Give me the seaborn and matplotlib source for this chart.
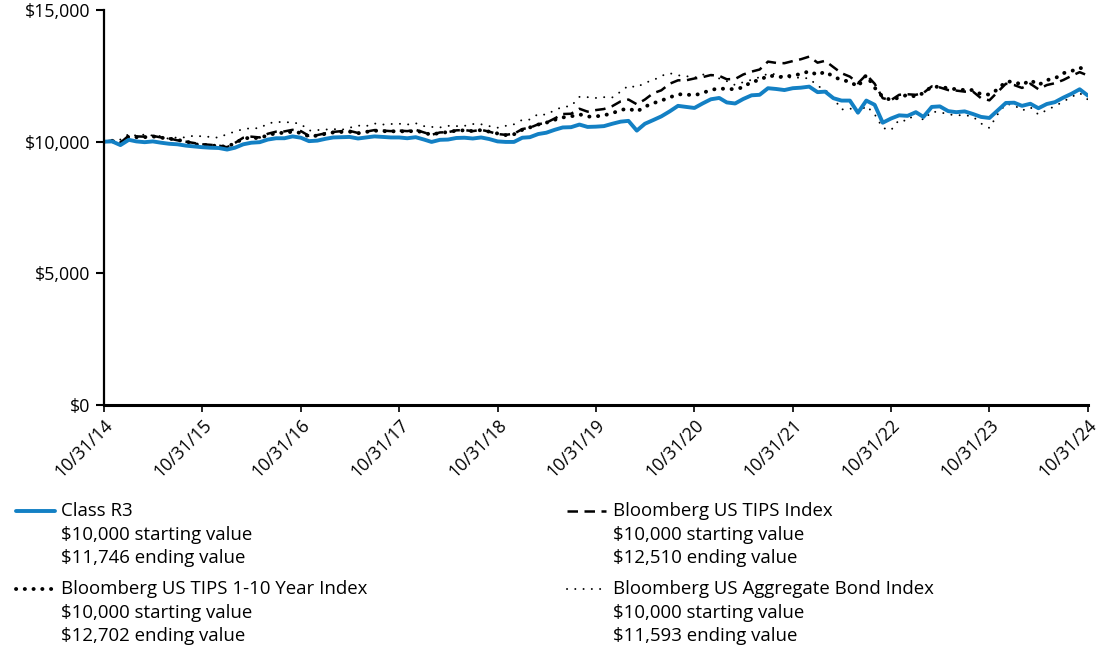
import numpy as np
import pandas as pd
import matplotlib
matplotlib.use("Agg")
import matplotlib.pyplot as plt
import seaborn as sns
from matplotlib.lines import Line2D

# ---------------- data ----------------
dates = pd.date_range("2014-10-31", periods=121, freq="ME")
tick_labels = ["10/31/14", "10/31/15", "10/31/16", "10/31/17", "10/31/18", "10/31/19",
               "10/31/20", "10/31/21", "10/31/22", "10/31/23", "10/31/24"]

class_r3 = [10000, 10010, 9870, 10070, 10010, 9980, 10010, 9960, 9920, 9900, 9850, 9820, 9790,
            9770, 9760, 9700, 9770, 9900, 9960, 9980, 10080, 10130, 10130, 10200, 10150,
            10020, 10040, 10110, 10160, 10170, 10180, 10120, 10160, 10200, 10180, 10160, 10160,
            10130, 10170, 10080, 9990, 10070, 10080, 10140, 10150, 10120, 10160, 10100, 10010,
            9990, 9990, 10150, 10170, 10290, 10340, 10450, 10540, 10550, 10650, 10560, 10570,
            10590, 10680, 10760, 10790, 10420, 10680, 10820, 10960, 11150, 11360, 11320, 11280,
            11450, 11610, 11660, 11490, 11450, 11620, 11760, 11780, 12030, 12000, 11960, 12030,
            12050, 12090, 11880, 11900, 11650, 11560, 11560, 11100, 11560, 11400, 10720, 10880,
            11000, 10980, 11120, 10940, 11320, 11340, 11160, 11120, 11150, 11050, 10940, 10900,
            11180, 11470, 11480, 11360, 11440, 11270, 11430, 11500, 11670, 11820, 11990, 11746]

tips_index = [10000, 10040, 9960, 10230, 10200, 10190, 10220, 10160, 10120, 10050, 10000, 9950, 9900,
              9880, 9850, 9790, 9950, 10150, 10190, 10160, 10300, 10380, 10390, 10450, 10400,
              10220, 10250, 10320, 10370, 10400, 10410, 10330, 10380, 10440, 10420, 10400, 10420,
              10400, 10450, 10350, 10260, 10350, 10360, 10430, 10440, 10400, 10450, 10380, 10290,
              10260, 10300, 10480, 10530, 10660, 10720, 10880, 11050, 11060, 11250, 11140, 11200,
              11240, 11350, 11530, 11600, 11420, 11600, 11840, 11950, 12200, 12330, 12330, 12400,
              12450, 12530, 12500, 12370, 12380, 12550, 12660, 12740, 13040, 12990, 12980, 13060,
              13130, 13230, 13000, 13070, 12830, 12600, 12470, 12220, 12540, 12200, 11650, 11580,
              11780, 11800, 11780, 11850, 12100, 12060, 11960, 11940, 11900, 11900, 11650, 11570,
              11880, 12200, 12150, 12040, 12200, 11990, 12150, 12220, 12340, 12500, 12640, 12510]

tips_1_10 = [10000, 10020, 9950, 10200, 10170, 10170, 10200, 10150, 10120, 10060, 10020, 9900, 9880,
             9860, 9830, 9810, 9940, 10120, 10150, 10130, 10250, 10320, 10340, 10380, 10330,
             10200, 10230, 10300, 10350, 10370, 10380, 10320, 10370, 10420, 10400, 10390, 10400,
             10380, 10420, 10340, 10260, 10340, 10360, 10420, 10430, 10400, 10440, 10380, 10310,
             10250, 10280, 10450, 10540, 10650, 10720, 10830, 10920, 10960, 11040, 10950, 10960,
             11000, 11080, 11200, 11260, 11140, 11330, 11460, 11560, 11680, 11800, 11790, 11760,
             11850, 11960, 12030, 11990, 12000, 12060, 12280, 12330, 12510, 12480, 12440, 12530,
             12560, 12680, 12530, 12660, 12470, 12340, 12280, 12090, 12530, 12050, 11700, 11580,
             11680, 11780, 11710, 11850, 12090, 12080, 12030, 11990, 11960, 11960, 11800, 11790,
             11980, 12280, 12280, 12150, 12340, 12150, 12340, 12400, 12600, 12680, 12810, 12702]

agg_bond = [10000, 10070, 10080, 10290, 10230, 10270, 10230, 10210, 10100, 10170, 10160, 10230, 10200,
            10180, 10150, 10290, 10380, 10480, 10510, 10510, 10690, 10750, 10740, 10730, 10670,
            10420, 10440, 10460, 10480, 10450, 10530, 10610, 10590, 10690, 10650, 10670, 10680,
            10650, 10700, 10590, 10560, 10540, 10600, 10590, 10600, 10670, 10660, 10590, 10530,
            10600, 10660, 10830, 10840, 11050, 11020, 11200, 11320, 11350, 11700, 11690, 11660,
            11690, 11680, 11900, 12130, 12060, 12240, 12330, 12500, 12600, 12520, 12490, 12430,
            12550, 12530, 12400, 12300, 12150, 12260, 12350, 12450, 12580, 12560, 12450, 12430,
            12430, 12400, 12120, 11970, 11660, 11220, 11270, 11080, 11360, 11040, 10520, 10440,
            10830, 10780, 11110, 10820, 11140, 11120, 11040, 11000, 11010, 10950, 10690, 10520,
            11030, 11430, 11390, 11180, 11310, 11030, 11200, 11350, 11520, 11700, 11850, 11593]

series_names = ["Class R3", "Bloomberg US TIPS Index",
                "Bloomberg US TIPS 1-10 Year Index", "Bloomberg US Aggregate Bond Index"]
start_values = ["$10,000", "$10,000", "$10,000", "$10,000"]
end_values = ["$11,746", "$12,510", "$12,702", "$11,593"]
y_ticks = [0, 5000, 10000, 15000]
y_tick_labels = ["$0", "$5,000", "$10,000", "$15,000"]

# ---------------- styling ----------------
sns.set_theme(style="white")
plt.rcParams["font.family"] = ["Open Sans", "DejaVu Sans"]

BLUE = "#1380C4"
styles = {
    "Class R3": dict(color=BLUE, lw=2.8, ls="-", cap="butt"),
    "Bloomberg US TIPS Index": dict(color="black", lw=1.8, ls=(0, (4.2, 2.6)), cap="butt"),
    "Bloomberg US TIPS 1-10 Year Index": dict(color="black", lw=2.8, ls=(0, (0.05, 2.2)), cap="round"),
    "Bloomberg US Aggregate Bond Index": dict(color="black", lw=1.4, ls=(0, (0.05, 4.2)), cap="round"),
}
legend_styles = {
    "Bloomberg US TIPS Index": (1.6, (0, (4.2, 2.6))),
}
series_values = {
    "Class R3": class_r3,
    "Bloomberg US TIPS Index": tips_index,
    "Bloomberg US TIPS 1-10 Year Index": tips_1_10,
    "Bloomberg US Aggregate Bond Index": agg_bond,
}

fig = plt.figure(figsize=(11, 6.53), dpi=100)
ax = fig.add_axes([104 / 1100, 1 - 405 / 653, (1088 - 104) / 1100, (405 - 10) / 653])

draw_order = ["Bloomberg US Aggregate Bond Index", "Bloomberg US TIPS Index",
              "Bloomberg US TIPS 1-10 Year Index", "Class R3"]
for name in draw_order:
    st = styles[name]
    df = pd.DataFrame({"date": dates, "value": series_values[name]})
    sns.lineplot(data=df, x="date", y="value", ax=ax, color=st["color"],
                 linewidth=st["lw"], linestyle=st["ls"], dash_capstyle=st["cap"],
                 solid_joinstyle="round", legend=False)

ax.set_xlim(dates[0], dates[-1])
ax.set_ylim(0, 15000)
ax.set_xlabel("")
ax.set_ylabel("")
ax.set_yticks(y_ticks)
ax.set_yticklabels(y_tick_labels, fontsize=12.8, color="black")
xt = dates[::12]
ax.set_xticks(xt)
ax.set_xticklabels(tick_labels, rotation=45, ha="right", rotation_mode="anchor",
                   fontsize=12.8, color="black")
for s in ["top", "right"]:
    ax.spines[s].set_visible(False)
ax.spines["left"].set_color("black")
ax.spines["left"].set_linewidth(1.6)
ax.spines["bottom"].set_color("black")
ax.spines["bottom"].set_linewidth(2.2)
ax.tick_params(axis="y", which="major", length=6, width=1.5, color="black",
               direction="out", left=True, pad=4)
ax.tick_params(axis="x", which="major", length=5, width=1.2, color="black",
               direction="out", bottom=True, pad=3)
ax.grid(False)

# ---------------- legend (manual, in figure pixels) ----------------
W, H = 1100, 653
def fx(px):
    return px / W
def fy(py):
    return 1 - py / H

blocks = [
    ("Class R3", 16, 61, 511),
    ("Bloomberg US TIPS Index", 567, 613, 511),
    ("Bloomberg US TIPS 1-10 Year Index", 16, 61, 589),
    ("Bloomberg US Aggregate Bond Index", 567, 613, 589),
]
for name, hx, tx, ty in blocks:
    st = styles[name]
    i = series_names.index(name)
    fig.add_artist(Line2D([fx(hx), fx(hx + 39)], [fy(ty), fy(ty)], transform=fig.transFigure,
                          color=st["color"], linewidth=st["lw"], linestyle=st["ls"],
                          dash_capstyle=st["cap"]))
    lines = [name, f"{start_values[i]} starting value", f"{end_values[i]} ending value"]
    for k, t in enumerate(lines):
        fig.text(fx(tx), fy(ty + 23.5 * k), t, fontsize=13.4, va="center", ha="left",
                 color="black")

fig.savefig("out.png", dpi=100)
